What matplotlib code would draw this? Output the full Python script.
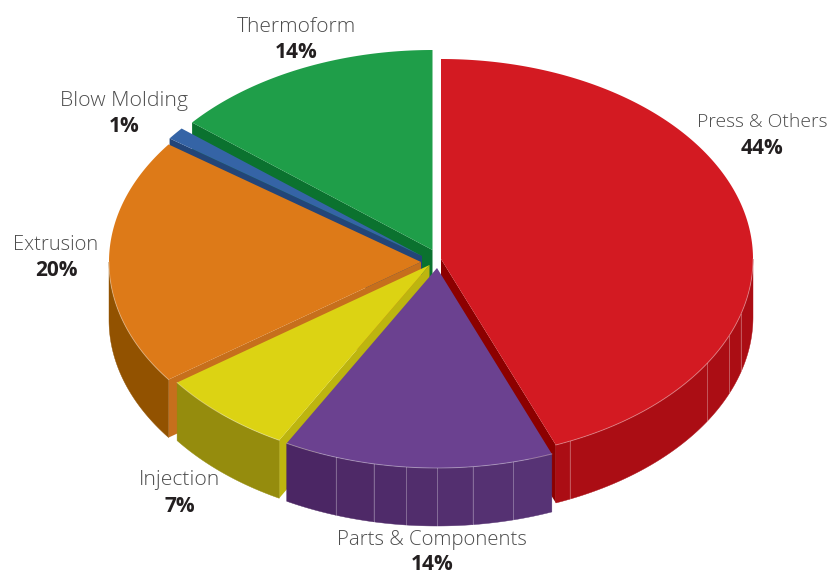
import numpy as np
import matplotlib
matplotlib.use("Agg")
import matplotlib.pyplot as plt
from matplotlib.colors import to_rgb

# Data, clockwise from twelve o'clock
labels = ["Press & Others", "Parts & Components", "Injection", "Extrusion", "Blow Molding", "Thermoform"]
shares = [44, 14, 7, 20, 1, 14]

# Colours: top, wall on the left, wall on the right, cut face
top_colors = ["#d31a22", "#6b4190", "#dcd313", "#dd7a18", "#3564a6", "#1f9e49"]
wall_left = ["#ab0d14", "#4a2562", "#958c0d", "#925200", "#234578", "#0b722f"]
wall_right = ["#ab0d14", "#583476", "#958c0d", "#925200", "#234578", "#0b722f"]
cut_colors = ["#8c0000", "#52306f", "#bdb50f", "#c66f1c", "#234578", "#0b722f"]

# Exploded centre of every slice in pixels
centers = [(441, 259), (437, 268), (429.5, 265), (421, 262), (422, 256), (432.5, 250)]
# Facet seams on the side walls, degrees
seams = [[106, 112.6, 121.5, 155.6], [165.9, 173.4, 180, 185.7, 191.7, 198.9], [206.5], [], [], []]
# Back to front
draw_order = [5, 4, 3, 2, 0, 1]

label_pos = [(762, 122), (432, 540), (180, 480), (56, 245), (124, 101), (296, 27)]
label_sizes = [13.9, 14.7, 15.2, 14.5, 15.3, 15]
percent_gaps = [26, 24, 26, 26, 26, 25]

RX, RY, DEPTH = 312, 200, 58

edges = np.concatenate([[0], np.cumsum(shares)]) * 3.6


def rim(center, deg):
    t = np.radians(deg)
    return center[0] + RX * np.sin(t), center[1] - RY * np.cos(t)


fig = plt.figure(figsize=(8.29, 5.74), dpi=100)
ax = fig.add_axes([0, 0, 1, 1])
ax.set_xlim(0, 829)
ax.set_ylim(574, 0)
ax.axis("off")

for i in draw_order:
    c = centers[i]
    a0, a1 = edges[i], edges[i + 1]

    # cut faces
    for a in (a0, a1):
        if (a == a0 and a0 > 180) or (a == a1 and a1 < 180):
            x, y = rim(c, a)
            ax.fill([c[0], x, x, c[0]], [c[1], y, y + DEPTH, c[1] + DEPTH],
                    color=cut_colors[i], lw=0)

    # side wall, only the part turned to the viewer
    w0, w1 = max(a0, 90), min(a1, 270)
    if w0 < w1:
        stops = [w0] + [s for s in seams[i] if w0 < s < w1] + [w1]
        span_l, span_r = rim(c, w1)[0], rim(c, w0)[0]
        for s0, s1 in zip(stops[:-1], stops[1:]):
            t = np.linspace(s0, s1, 60)
            x, y = rim(c, t)
            mix = (x.mean() - span_l) / (span_r - span_l)
            col = (1 - mix) * np.array(to_rgb(wall_left[i])) + mix * np.array(to_rgb(wall_right[i]))
            ax.fill(np.r_[x, x[::-1]], np.r_[y, y[::-1] + DEPTH], color=col, lw=0.3)
        for s in stops[1:-1]:
            x, y = rim(c, s)
            ax.plot([x, x], [y, y + DEPTH], color="white", alpha=0.3, lw=0.7)

    # top
    t = np.linspace(a0, a1, 200)
    x, y = rim(c, t)
    ax.fill(np.r_[c[0], x], np.r_[c[1], y], color=top_colors[i], lw=0)
    if w0 < w1:
        t = np.linspace(w0, w1, 120)
        x, y = rim(c, t)
        ax.plot(x, y, color="white", alpha=0.35, lw=0.7)

for name, share, size, gap, (x, y) in zip(labels, shares, label_sizes, percent_gaps, label_pos):
    ax.text(x, y, name, ha="center", va="center", fontsize=size, color="#4d4d4d",
            family="Open Sans", fontweight="light")
    ax.text(x, y + gap, f"{share}%", ha="center", va="center", fontsize=15, color="#231f20",
            family="Open Sans", fontweight="bold")

fig.savefig("out.png", dpi=100)
